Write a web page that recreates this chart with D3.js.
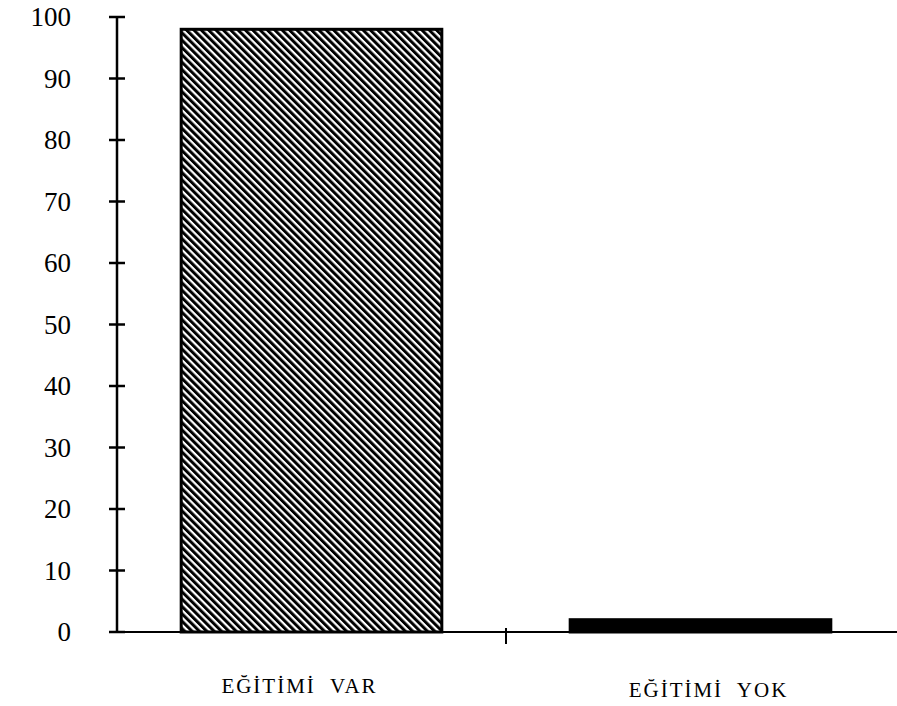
<!DOCTYPE html>
<html>
<head>
<meta charset="utf-8">
<script src="https://cdn.jsdelivr.net/npm/d3@7"></script>
<style>
  html, body { margin: 0; padding: 0; background: #fff; }
  svg { display: block; }
</style>
</head>
<body>
<svg id="chart" width="897" height="706"></svg>
<script>
const categories = ["EĞİTİMİ  VAR", "EĞİTİMİ  YOK"];
const values = [98, 2];
const yTicks = [0, 10, 20, 30, 40, 50, 60, 70, 80, 90, 100];

const svg = d3.select("#chart");
const margin = { left: 117, right: 0, top: 17, bottom: 74 };
const W = 897, H = 706;
const axisY = H - margin.bottom; // 632

const x = d3.scaleBand().domain(categories).range([margin.left, W - 2]).paddingInner(0).paddingOuter(0);
const y = d3.scaleLinear().domain([0, 100]).range([axisY, margin.top]);

const defs = svg.append("defs");
const pat = defs.append("pattern")
  .attr("id", "hatch")
  .attr("patternUnits", "userSpaceOnUse")
  .attr("width", 5.2).attr("height", 5.2)
  .attr("patternTransform", "rotate(-45)");
pat.append("rect").attr("width", 5.2).attr("height", 5.2).attr("fill", "#fff");
pat.append("line").attr("x1", 0).attr("y1", 0).attr("x2", 0).attr("y2", 5.2)
  .attr("stroke", "#000").attr("stroke-width", 6);

const barFrac = 0.67;
const bw = x.bandwidth() * barFrac;

// bars
svg.selectAll("rect.bar").data(values).enter().append("rect")
  .attr("class", "bar")
  .attr("x", (d, i) => x(categories[i]) + (x.bandwidth() - bw) / 2)
  .attr("y", d => y(d))
  .attr("width", bw)
  .attr("height", d => axisY - y(d))
  .attr("fill", (d, i) => i === 0 ? "url(#hatch)" : "#000")
  .attr("stroke", "#000")
  .attr("stroke-width", 3);

// y axis
const yAxis = d3.axisLeft(y).tickValues(yTicks).tickSize(0).tickPadding(46);
const gy = svg.append("g").attr("transform", `translate(${margin.left},0)`).call(yAxis);
gy.select(".domain").remove();
gy.selectAll(".tick text")
  .attr("font-family", "'Liberation Serif', 'Times New Roman', serif")
  .attr("font-size", 27)
  .attr("fill", "#000");
svg.append("line")
  .attr("x1", margin.left).attr("x2", margin.left)
  .attr("y1", y(100)).attr("y2", axisY)
  .attr("stroke", "#000").attr("stroke-width", 2.5);
svg.selectAll("line.ytick").data(yTicks).enter().append("line")
  .attr("class", "ytick")
  .attr("x1", margin.left - 8).attr("x2", margin.left + 8)
  .attr("y1", d => y(d)).attr("y2", d => y(d))
  .attr("stroke", "#000").attr("stroke-width", 2.5);

// x axis
svg.append("line")
  .attr("x1", margin.left).attr("x2", W)
  .attr("y1", axisY).attr("y2", axisY)
  .attr("stroke", "#000").attr("stroke-width", 2);
svg.append("line")
  .attr("x1", x(categories[1])).attr("x2", x(categories[1]))
  .attr("y1", axisY - 4).attr("y2", axisY + 12)
  .attr("stroke", "#000").attr("stroke-width", 2);

const labelShift = [-12, 8];
svg.selectAll("text.cat").data(categories).enter().append("text")
  .attr("class", "cat")
  .attr("x", (d, i) => x(d) + x.bandwidth() / 2 + labelShift[i])
  .attr("y", (d, i) => 693 + i * 4)
  .attr("text-anchor", "middle")
  .attr("font-family", "'Liberation Serif', 'Times New Roman', serif")
  .attr("font-size", 21)
  .attr("letter-spacing", 2)
  .style("white-space", "pre")
  .attr("fill", "#000")
  .text(d => d);
</script>
</body>
</html>
